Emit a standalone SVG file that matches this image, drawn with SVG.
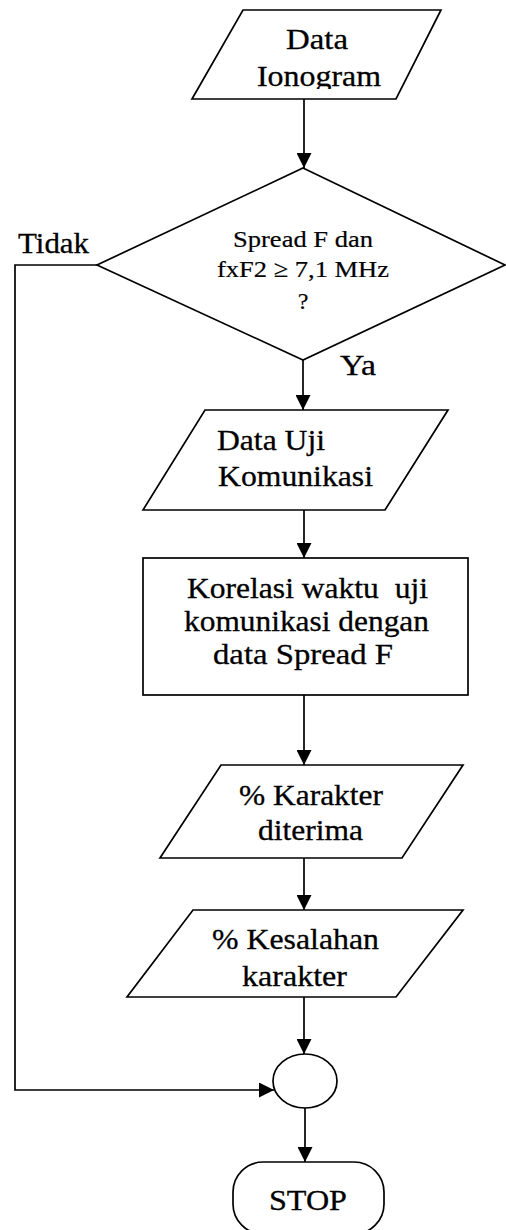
<svg xmlns="http://www.w3.org/2000/svg" width="506" height="1230" viewBox="0 0 506 1230">
  <style>
    .shape { fill: #fff; stroke: #000; stroke-width: 1.7; }
    .conn { fill: none; stroke: #000; stroke-width: 1.7; }
    .t { font-family: 'Liberation Serif', 'Times New Roman', serif; font-size: 30px; fill: #000; stroke: #000; stroke-width: 0.3; }
    .s { font-family: 'Liberation Serif', 'Times New Roman', serif; font-size: 24px; fill: #000; stroke: #000; stroke-width: 0.2; }
  </style>
  <defs>
    <marker id="arrow" markerUnits="userSpaceOnUse" markerWidth="15" markerHeight="15" refX="15" refY="7.5" orient="auto">
      <path d="M0,0 L15,7.5 L0,15 z" fill="#000"/>
    </marker>
    <clipPath id="clipIono">
      <rect x="190" y="10" width="260" height="79"/>
    </clipPath>
  </defs>

  <rect width="506" height="1230" fill="#fff"/>

  <!-- connectors -->
  <g id="connectors">
    <line class="conn" x1="304" y1="99" x2="304" y2="168" marker-end="url(#arrow)"/>
    <line class="conn" x1="303" y1="360" x2="303" y2="410" marker-end="url(#arrow)"/>
    <line class="conn" x1="304" y1="510" x2="304" y2="558" marker-end="url(#arrow)"/>
    <line class="conn" x1="304" y1="695" x2="304" y2="765" marker-end="url(#arrow)"/>
    <line class="conn" x1="304" y1="858" x2="304" y2="910" marker-end="url(#arrow)"/>
    <line class="conn" x1="304" y1="997" x2="304" y2="1054" marker-end="url(#arrow)"/>
    <line class="conn" x1="305" y1="1108" x2="305" y2="1162" marker-end="url(#arrow)"/>
    <polyline class="conn" points="97,265 15,265 15,1090 274,1090" marker-end="url(#arrow)"/>
    <text class="t" x="18" y="253" textLength="71" lengthAdjust="spacingAndGlyphs">Tidak</text>
    <text class="t" x="340" y="375" textLength="36" lengthAdjust="spacingAndGlyphs">Ya</text>
  </g>

  <!-- input: ionogram data -->
  <g id="data-ionogram">
    <polygon class="shape" points="243,10 441,10 396,99 192,99"/>
    <text class="t" x="286" y="49" textLength="62" lengthAdjust="spacingAndGlyphs">Data</text>
    <g clip-path="url(#clipIono)">
      <text class="t" x="257" y="86" textLength="124" lengthAdjust="spacingAndGlyphs">Ionogram</text>
    </g>
  </g>

  <!-- decision -->
  <g id="decision">
    <polygon class="shape" points="303,168 505,265 303,360 97,265"/>
    <text class="s" x="233" y="247" textLength="140" lengthAdjust="spacingAndGlyphs">Spread F dan</text>
    <text class="s" x="217" y="277" textLength="172" lengthAdjust="spacingAndGlyphs">fxF2 ≥ 7,1 MHz</text>
    <text class="s" x="303" y="309" text-anchor="middle">?</text>
  </g>

  <!-- input: communication test data -->
  <g id="data-uji">
    <polygon class="shape" points="205,410 448,410 385,510 143,510"/>
    <text class="t" x="217" y="450" textLength="108" lengthAdjust="spacingAndGlyphs">Data Uji</text>
    <text class="t" x="218" y="486" textLength="155" lengthAdjust="spacingAndGlyphs">Komunikasi</text>
  </g>

  <!-- process: correlation -->
  <g id="korelasi">
    <rect class="shape" x="143" y="558" width="325" height="137"/>
    <text class="t" x="187" y="598" textLength="241" lengthAdjust="spacingAndGlyphs" xml:space="preserve">Korelasi waktu  uji</text>
    <text class="t" x="184" y="631" textLength="245" lengthAdjust="spacingAndGlyphs">komunikasi dengan</text>
    <text class="t" x="213" y="664" textLength="180" lengthAdjust="spacingAndGlyphs">data Spread F</text>
  </g>

  <!-- output: characters received -->
  <g id="karakter-diterima">
    <polygon class="shape" points="221,765 463,765 402,858 160,858"/>
    <text class="t" x="239" y="805" textLength="144" lengthAdjust="spacingAndGlyphs">% Karakter</text>
    <text class="t" x="258" y="840" textLength="105" lengthAdjust="spacingAndGlyphs">diterima</text>
  </g>

  <!-- output: character errors -->
  <g id="kesalahan-karakter">
    <polygon class="shape" points="193,910 463,910 396,997 127,997"/>
    <text class="t" x="212" y="949" textLength="167" lengthAdjust="spacingAndGlyphs">% Kesalahan</text>
    <text class="t" x="242" y="986" textLength="105" lengthAdjust="spacingAndGlyphs">karakter</text>
  </g>

  <!-- junction -->
  <g id="junction">
    <ellipse class="shape" cx="305" cy="1081" rx="32" ry="27"/>
  </g>

  <!-- terminator -->
  <g id="stop">
    <rect class="shape" x="233" y="1162" width="151" height="72" rx="30" ry="30"/>
    <text class="t" x="269" y="1210" textLength="78" lengthAdjust="spacingAndGlyphs">STOP</text>
  </g>
</svg>
